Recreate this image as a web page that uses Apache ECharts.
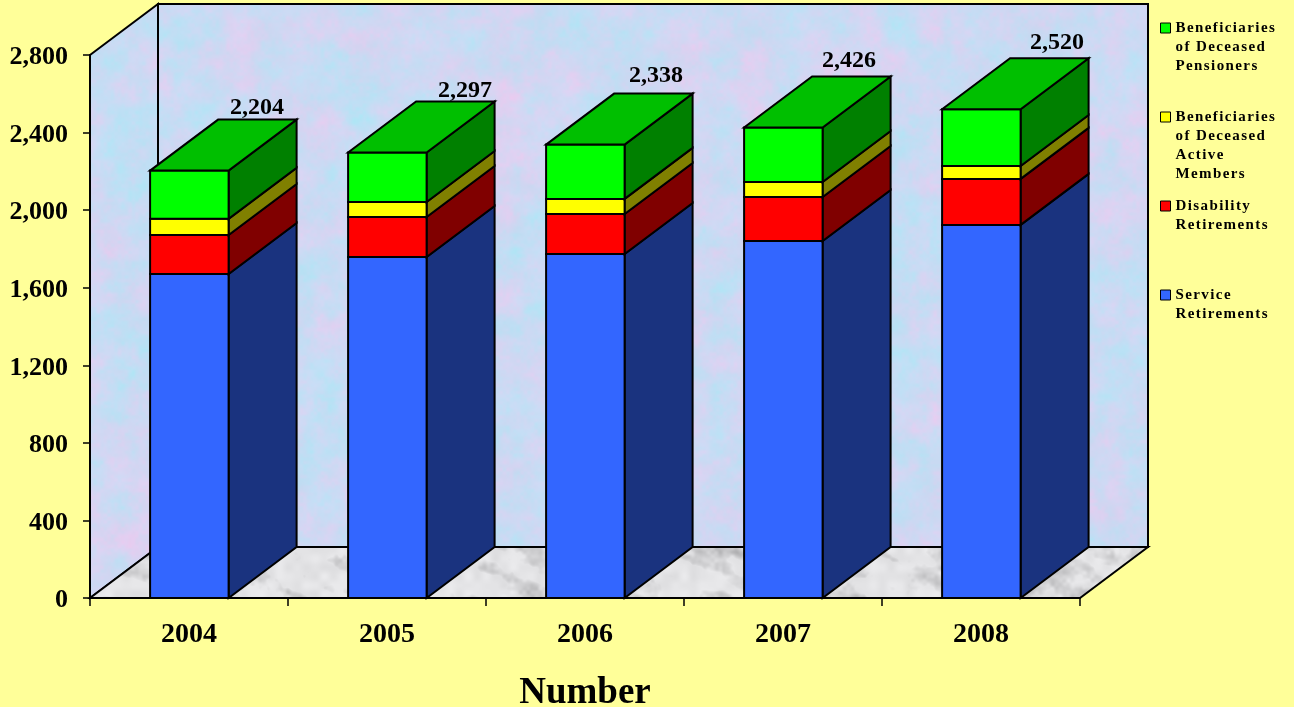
<!DOCTYPE html>
<html>
<head>
<meta charset="utf-8">
<style>html,body{margin:0;padding:0;background:#FFFF99}#c{width:1294px;height:707px}</style>
<script src="https://cdn.jsdelivr.net/npm/echarts@6/dist/echarts.min.js"></script>
</head>
<body>
<div id="c"></div>
<script>
const categories = ['2004', '2005', '2006', '2007', '2008'];
const service = [1671, 1758, 1774, 1841, 1924];
const disability = [201, 207, 206, 227, 237];
const activeBeneficiaries = [83, 77, 78, 77, 67];
const pensionerBeneficiaries = [249, 255, 280, 281, 292];
const totals = [2204, 2297, 2338, 2426, 2520];
const labelShift = [[68, -63], [78, -62], [71, -69], [66, -67], [76, -67]];

const DEPTH_X = 68, DEPTH_Y = -51, LINE = 19;
const SERIF = '"Liberation Serif","Times New Roman",serif';
const legendLines = new Set(['Beneficiaries', 'of Deceased', 'Pensioners', 'Active', 'Members', 'Disability', 'Retirements', 'Service']);
const nativeFill = CanvasRenderingContext2D.prototype.fillText;
CanvasRenderingContext2D.prototype.fillText = function (t, x, y, m) {
  this.letterSpacing = legendLines.has(t) ? '1.4px' : '0px';
  return m === undefined ? nativeFill.call(this, t, x, y) : nativeFill.call(this, t, x, y, m);
};

function hash(x, y, s) {
  let h = (x * 374761393 + y * 668265263 + s * 1442695040) | 0;
  h = Math.imul(h ^ (h >>> 13), 1274126177);
  return ((h ^ (h >>> 16)) >>> 0) / 4294967295;
}
function noise(x, y, s) {
  const xi = Math.floor(x), yi = Math.floor(y);
  let fx = x - xi, fy = y - yi;
  fx = fx * fx * (3 - 2 * fx); fy = fy * fy * (3 - 2 * fy);
  const a = hash(xi, yi, s), b = hash(xi + 1, yi, s), c = hash(xi, yi + 1, s), d = hash(xi + 1, yi + 1, s);
  return (a + (b - a) * fx) * (1 - fy) + (c + (d - c) * fx) * fy;
}
function makeTexture(w, h, paint) {
  const cv = document.createElement('canvas');
  cv.width = w; cv.height = h;
  const ctx = cv.getContext('2d');
  const img = ctx.createImageData(w, h);
  for (let y = 0; y < h; y++) for (let x = 0; x < w; x++) {
    const p = paint(x, y), i = (y * w + x) * 4;
    img.data[i] = p[0]; img.data[i + 1] = p[1]; img.data[i + 2] = p[2]; img.data[i + 3] = 255;
  }
  ctx.putImageData(img, 0, 0);
  return cv;
}
const wallTexture = makeTexture(1294, 707, (x, y) => {
  const a = noise(x / 30, y / 30, 1) * .45 + noise(x / 11, y / 11, 2) * .35 + noise(x / 3.5, y / 3.5, 3) * .2;
  const b = noise(x / 36, y / 36, 4) * .45 + noise(x / 12, y / 12, 5) * .35 + noise(x / 3.5, y / 3.5, 6) * .2;
  const pink = (a - .5) * 2, cyan = (b - .5) * 2;
  return [204 + 24 * pink - 16 * cyan, 217 - 8 * pink + 10 * cyan, 243 + 4 * cyan];
});
const floorTexture = makeTexture(1294, 707, (x, y) => {
  const u = x + y * 0.8, v = y - x * .5;
  const n = noise(u / 50, v / 14, 7) * .55 + noise(u / 20, v / 8, 8) * .3 + noise(x / 4, y / 4, 9) * .15;
  const g = 228 - Math.max(0, n - .5) * 130 + (noise(x / 9, y / 9, 10) - .5) * 14;
  return [g, g, g + 2];
});

function poly(points, fill) {
  return { type: 'polygon', shape: { points: points }, style: { fill: fill, stroke: '#000', lineWidth: 2, lineJoin: 'miter' } };
}
function depth(p) { return [p[0] + DEPTH_X, p[1] + DEPTH_Y]; }

function renderWalls(params) {
  const g = params.coordSys;
  const bl = [g.x, g.y + g.height], tl = [g.x, g.y], br = [g.x + g.width, g.y + g.height], tr = [g.x + g.width, g.y];
  const wallFill = { image: wallTexture, repeat: 'repeat' };
  const floorFill = { image: floorTexture, repeat: 'repeat' };
  return {
    type: 'group', children: [
      poly([depth(tl), depth(tr), depth(br), depth(bl)], wallFill),
      poly([tl, depth(tl), depth(bl), bl], wallFill),
      poly([bl, depth(bl), depth(br), br], floorFill)
    ]
  };
}

function segmentRenderer(front, side, top) {
  return function (params, api) {
    const i = api.value(0), low = api.coord([i, api.value(1)]), high = api.coord([i, api.value(2)]);
    const w = api.size([1, 0])[0] * 0.4, x0 = low[0] - w / 2 + 0.7, x1 = low[0] + w / 2;
    const a = [x0, low[1]], b = [x1, low[1]], c = [x1, high[1]], d = [x0, high[1]];
    const kids = [poly([b, c, depth(c), depth(b)], side), poly([a, b, c, d], front)];
    if (top) {
      kids.push(poly([d, c, depth(c), depth(d)], top));
      kids.push({
        type: 'text', z2: 50, style: {
          text: totals[i].toLocaleString('en-US'),
          x: low[0] + labelShift[i][0], y: high[1] + labelShift[i][1],
          align: 'center', verticalAlign: 'middle',
          font: 'bold 24px ' + SERIF, fill: '#000'
        }
      });
    }
    return { type: 'group', children: kids };
  };
}

function stackSeries(name, values, below, front, side, top) {
  return {
    name: name, type: 'custom', coordinateSystem: 'cartesian2d', z: 3, silent: true,
    itemStyle: { color: front },
    encode: { x: 0, y: [1, 2] },
    renderItem: segmentRenderer(front, side, top),
    data: values.map((v, i) => [i, below[i], below[i] + v])
  };
}
function addTo(a, b) { return a.map((v, i) => v + b[i]); }
const base0 = categories.map(() => 0);
const base1 = addTo(base0, service);
const base2 = addTo(base1, disability);
const base3 = addTo(base2, activeBeneficiaries);

const NAME_PENS = 'Beneficiaries\nof Deceased\nPensioners';
const NAME_ACTIVE = 'Beneficiaries\nof Deceased\nActive\nMembers';
const NAME_DIS = 'Disability\nRetirements';
const NAME_SERV = 'Service\nRetirements';

function legendFor(name, centerY) {
  const n = name.split('\n').length;
  return {
    data: [name], left: 1160, top: centerY - (2 * n - 1) * LINE / 2, padding: 0,
    orient: 'vertical', icon: 'rect', itemWidth: 10, itemHeight: 10, selectedMode: false,
    itemStyle: { borderColor: '#000', borderWidth: 1 },
    formatter: nm => '\n'.repeat(n - 1) + nm,
    textStyle: { fontFamily: SERIF, fontWeight: 'bold', fontSize: 15, color: '#000', lineHeight: LINE }
  };
}

const chart = echarts.init(document.getElementById('c'), null, { renderer: 'canvas' });
chart.setOption({
  animation: false,
  backgroundColor: '#FFFF99',
  grid: { left: 90, top: 55, width: 990, height: 543, containLabel: false, outerBoundsMode: 'none' },
  legend: [legendFor(NAME_PENS, 28), legendFor(NAME_ACTIVE, 117), legendFor(NAME_DIS, 206), legendFor(NAME_SERV, 295)],
  xAxis: {
    type: 'category', data: categories, z: 2,
    name: 'Number', nameLocation: 'middle', nameGap: 77,
    nameTextStyle: { fontFamily: SERIF, fontWeight: 'bold', fontSize: 37, color: '#000' },
    axisLine: { lineStyle: { color: '#000', width: 2 } },
    axisTick: { show: true, length: 8, alignWithLabel: false, lineStyle: { color: '#000', width: 1.5 } },
    axisLabel: { fontFamily: SERIF, fontWeight: 'bold', fontSize: 28, color: '#000', margin: 23 },
    splitLine: { show: false }
  },
  yAxis: {
    type: 'value', min: 0, max: 2800, interval: 400, z: 2,
    axisLine: { show: true, lineStyle: { color: '#000', width: 2 } },
    axisTick: { show: true, length: 7, lineStyle: { color: '#000', width: 1.5 } },
    axisLabel: {
      margin: 22,
      formatter: v => '{t|' + v.toLocaleString('en-US') + '}',
      rich: { t: { fontFamily: SERIF, fontWeight: 'bold', fontSize: 26, color: '#000', padding: [5, 0, 0, 0] } }
    },
    splitLine: { show: false }
  },
  series: [
    { name: 'walls', type: 'custom', coordinateSystem: 'cartesian2d', z: 1, silent: true, renderItem: renderWalls, data: [[0, 0]] },
    stackSeries(NAME_SERV, service, base0, '#3366FF', '#1A337F'),
    stackSeries(NAME_DIS, disability, base1, '#FF0000', '#800000'),
    stackSeries(NAME_ACTIVE, activeBeneficiaries, base2, '#FFFF00', '#808000'),
    stackSeries(NAME_PENS, pensionerBeneficiaries, base3, '#00FF00', '#008000', '#00BF00')
  ]
});
</script>
</body>
</html>
